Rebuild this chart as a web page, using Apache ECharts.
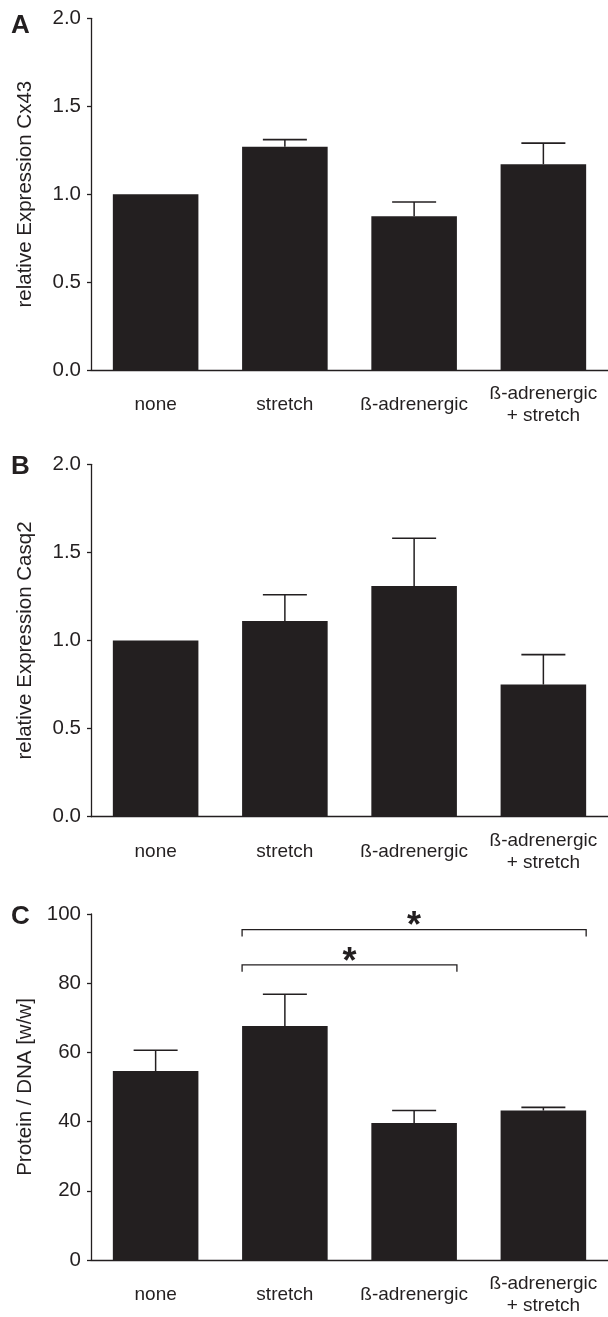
<!DOCTYPE html>
<html>
<head>
<meta charset="utf-8">
<script src="https://cdn.jsdelivr.net/npm/echarts@6/dist/echarts.min.js"></script>
<style>
html,body{margin:0;padding:0;background:#fff;}
#main{width:608px;height:1317px;}
</style>
</head>
<body>
<div id="main"></div>
<script>
// categories and values
var categories = ['none', 'stretch', 'ß-adrenergic', 'ß-adrenergic\n+ stretch'];

var cx43Mean = [1.0, 1.27, 0.875, 1.17];
var cx43Sem = [0, 0.04, 0.08, 0.12];

var casq2Mean = [1.0, 1.11, 1.31, 0.75];
var casq2Sem = [0, 0.15, 0.27, 0.17];

var proteinMean = [54.6, 67.6, 39.6, 43.2];
var proteinSem = [6.0, 9.2, 3.6, 0.9];

// significance brackets on panel C: [from, to, height]
var brackets = [[1, 3, 95.5], [1, 2, 85.3]];
var bracketLabels = ['*', '*'];

var panelLetters = ['A', 'B', 'C'];
var yNames = ['relative Expression Cx43', 'relative Expression Casq2', 'Protein / DNA [w/w]'];

var ink = '#231f20';
var font = '"Liberation Sans", Arial, Helvetica, sans-serif';
var barFrac = 0.662;

var myChart = echarts.init(document.getElementById('main'));

var grids = [
	{left: 91, top: 18.3, width: 522, height: 351.7},
	{left: 91, top: 464.3, width: 522, height: 352.4},
	{left: 91, top: 914, width: 522, height: 352.7}
];

function makeX(i){
	return {
		type: 'category', gridIndex: i, data: categories,
		axisLine: {show: true, lineStyle: {color: ink, width: 1.3}},
		axisTick: {show: false},
		axisLabel: {
			color: ink, fontFamily: font, fontSize: 19, margin: 35,
			verticalAlign: 'middle', lineHeight: 22, interval: 0
		}
	};
}

function makeY(i, max, interval, digits){
	return {
		type: 'value', gridIndex: i, min: 0, max: max, interval: interval,
		name: yNames[i], nameLocation: 'middle', nameGap: 55,
		nameTextStyle: {color: ink, fontFamily: font, fontSize: 20.5},
		axisLine: {show: true, lineStyle: {color: ink, width: 1.3}},
		axisTick: {show: true, inside: false, length: 4, lineStyle: {color: ink, width: 1.3}},
		splitLine: {show: false},
		axisLabel: {
			color: ink, fontFamily: font, fontSize: 20.5, margin: 10,
			formatter: function(v){ return v.toFixed(digits); }
		}
	};
}

function errData(mean, sem){
	var d = [];
	for (var n = 0; n < mean.length; n++) {
		d.push([n, mean[n], sem[n]]);
	}
	return d;
}

//误差线
function renderErr(params, api){
	var sem = api.value(2);
	if (!(sem > 0)) return;
	var base = api.coord([api.value(0), api.value(1)]);
	var top = api.coord([api.value(0), api.value(1) + sem]);
	var half = 22;
	return {
		type: 'group',
		children: [
			{type: 'line', shape: {x1: base[0], y1: base[1], x2: top[0], y2: top[1]},
				style: {stroke: ink, lineWidth: 1.5}},
			{type: 'line', shape: {x1: top[0] - half, y1: top[1], x2: top[0] + half, y2: top[1]},
				style: {stroke: ink, lineWidth: 1.6}}
		]
	};
}

//显著性括号
function renderBracket(params, api){
	var band = api.size([1, 0])[0];
	var half = band * barFrac / 2;
	var p1 = api.coord([api.value(0), api.value(2)]);
	var p2 = api.coord([api.value(1), api.value(2)]);
	var x1 = p1[0] - half, x2 = p2[0] + half, y = p1[1];
	return {
		type: 'group',
		children: [
			{type: 'polyline', shape: {points: [[x1, y + 7], [x1, y], [x2, y], [x2, y + 7]]},
				style: {stroke: ink, lineWidth: 1.3, fill: null}},
			{type: 'text', x: (x1 + x2) / 2, y: y - 2,
				style: {text: bracketLabels[params.dataIndex], fill: ink,
					font: 'bold 36px ' + font, textAlign: 'center', textVerticalAlign: 'middle'}}
		]
	};
}

var series = [];
var means = [cx43Mean, casq2Mean, proteinMean];
var sems = [cx43Sem, casq2Sem, proteinSem];
for (var i = 0; i < 3; i++) {
	series.push({
		type: 'bar', xAxisIndex: i, yAxisIndex: i, data: means[i],
		barWidth: (barFrac * 100) + '%',
		itemStyle: {color: ink},
		silent: true
	});
	series.push({
		type: 'custom', xAxisIndex: i, yAxisIndex: i,
		data: errData(means[i], sems[i]),
		renderItem: renderErr, silent: true, z: 3
	});
}
series.push({
	type: 'custom', xAxisIndex: 2, yAxisIndex: 2,
	data: brackets, renderItem: renderBracket, silent: true, z: 4,
	encode: {x: [0, 1], y: 2}
});

var letterY = [23, 464, 914];
var graphics = [];
for (var k = 0; k < 3; k++) {
	graphics.push({
		type: 'text', left: 11, top: letterY[k] - 10,
		style: {text: panelLetters[k], fill: ink, font: 'bold 26px ' + font}
	});
}

myChart.setOption({
	animation: false,
	backgroundColor: '#fff',
	grid: grids,
	xAxis: [makeX(0), makeX(1), makeX(2)],
	yAxis: [makeY(0, 2, 0.5, 1), makeY(1, 2, 0.5, 1), makeY(2, 100, 20, 0)],
	graphic: graphics,
	series: series
});
</script>
</body>
</html>
